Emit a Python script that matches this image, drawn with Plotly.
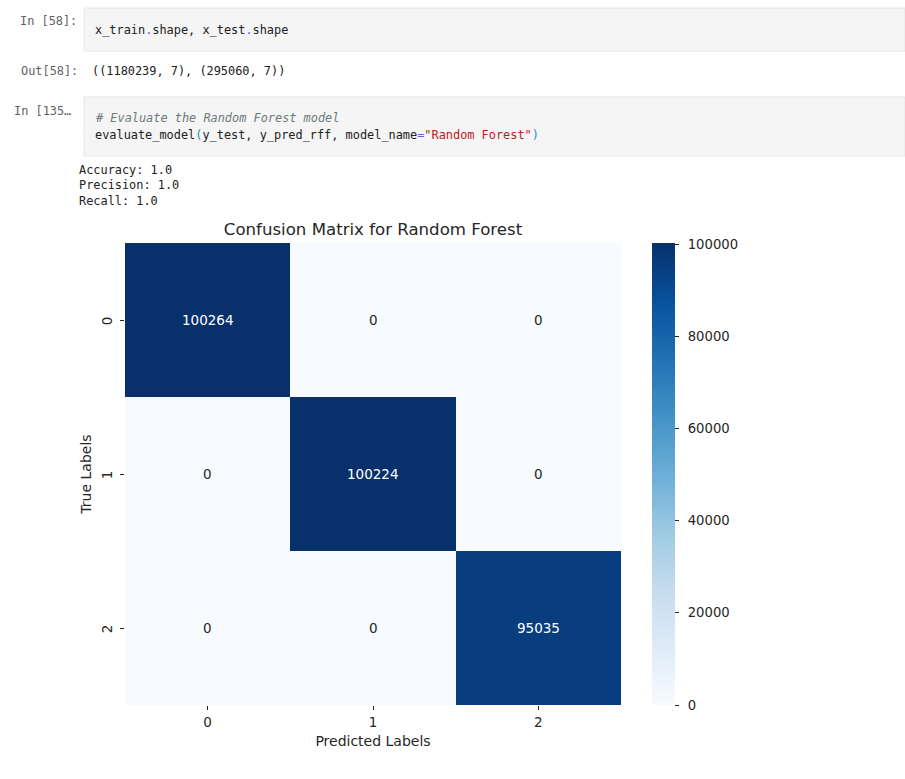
import plotly.graph_objects as go

# confusion matrix values
labels = [0, 1, 2]
matrix = [
    [100264, 0, 0],
    [0, 100224, 0],
    [0, 0, 95035],
]
cbar_ticks = [0, 20000, 40000, 60000, 80000, 100000]

title = "Confusion Matrix for Random Forest"
x_title = "Predicted Labels"
y_title = "True Labels"

# matplotlib Blues
blues = ["#f7fbff", "#deebf7", "#c6dbef", "#9ecae1", "#6baed6",
         "#4292c6", "#2171b5", "#08519c", "#08306b"]

W, H = 905, 779
LEFT, RIGHT, TOP, BOTTOM = 125, 621, 243, 705
SANS = "DejaVu Sans"
MONO = "DejaVu Sans Mono"


def px(x):
    return (x - LEFT) / (RIGHT - LEFT)


def py(y):
    return (BOTTOM - y) / (BOTTOM - TOP)


def note(x, y, text, color="#212121", size=11.9, family=MONO, anchor="left", angle=0):
    return dict(xref="paper", yref="paper", x=px(x), y=py(y), text=text, showarrow=False,
                xanchor=anchor, yanchor="middle", textangle=angle,
                font=dict(family=family, size=size, color=color))


def c(text, color):
    return '<span style="color:%s">%s</span>' % (color, text)


DOT = "#7c4dff"
PAREN = "#2a8fc7"
RED = "#ba2121"

notes = [
    note(79, 21, "In [58]:", "#616161", anchor="right"),
    note(93, 30, "x_train" + c(".", DOT) + "shape, x_test" + c(".", DOT) + "shape"),
    note(80, 71, "Out[58]:", "#616161", anchor="right"),
    note(90, 71, "((1180239, 7), (295060, 7))"),
    note(73, 111, "In [135…", "#616161", anchor="right"),
    note(93, 118, "<i># Evaluate the Random Forest model</i>", "#6b7b7b"),
    note(93, 135, "evaluate_model" + c("(", PAREN) + "y_test, y_pred_rff, model_name"
         + c("=", DOT) + c('"Random Forest"', RED) + c(")", PAREN)),
    note(77, 170, "Accuracy: 1.0"),
    note(77, 185, "Precision: 1.0"),
    note(77, 201, "Recall: 1.0"),
]

# cell value labels
for i, row in enumerate(matrix):
    for j, v in enumerate(row):
        notes.append(dict(x=labels[j], y=labels[i], xref="x", yref="y", text=str(v), showarrow=False,
                          font=dict(family=SANS, size=13.5, color="white" if v > 50000 else "#262626")))


def cell_box(y0, y1):
    return dict(type="rect", xref="paper", yref="paper", layer="below",
                x0=px(84), x1=px(905), y0=py(y1), y1=py(y0),
                fillcolor="#f5f5f5", line=dict(color="#e6e6e6", width=1))


fig = go.Figure(go.Heatmap(
    z=matrix,
    x=labels,
    y=labels,
    zmin=0,
    zmax=100264,
    colorscale=blues,
    xgap=0,
    ygap=0,
    hoverinfo="skip",
    colorbar=dict(
        x=px(652), xanchor="left", xpad=0, ypad=0, y=0, yanchor="bottom",
        len=1, thickness=23, outlinewidth=0,
        tickvals=cbar_ticks, ticktext=["\u2002" + str(t) for t in cbar_ticks],
        ticks="outside", ticklen=4, tickwidth=1, tickcolor="#262626",
        tickfont=dict(family=SANS, size=13.2, color="#262626"),
    ),
))

fig.update_layout(
    width=W,
    height=H,
    autosize=False,
    margin=dict(l=LEFT, r=W - RIGHT, t=TOP, b=H - BOTTOM, pad=0),
    paper_bgcolor="white",
    plot_bgcolor="white",
    title=dict(text=title, x=373 / W, xanchor="center",
               y=1 - 229 / H, yanchor="middle", font=dict(family=SANS, size=16.6, color="#262626")),
    xaxis=dict(
        tickvals=labels, ticks="outside", ticklen=4, tickwidth=1, tickcolor="#262626",
        showgrid=False, zeroline=False, showline=False, ticklabelstandoff=1,
        tickfont=dict(family=SANS, size=13.5, color="#262626"),
        title=dict(text=x_title, standoff=6, font=dict(family=SANS, size=14, color="#262626")),
    ),
    yaxis=dict(
        tickvals=labels, ticks="outside", ticklen=4, tickwidth=1, tickcolor="#262626",
        autorange="reversed", showgrid=False, zeroline=False, showline=False, tickangle=-90,
        ticklabelstandoff=3, ticklabelshift=-3,
        tickfont=dict(family=SANS, size=13.5, color="#262626"),
        title=dict(text=y_title, standoff=3, font=dict(family=SANS, size=14, color="#262626")),
    ),
    annotations=notes,
    shapes=[cell_box(8, 51), cell_box(97, 156)],
)

fig.write_html("out.html", config=dict(displayModeBar=False),
               post_script="document.body.style.margin='0';")
